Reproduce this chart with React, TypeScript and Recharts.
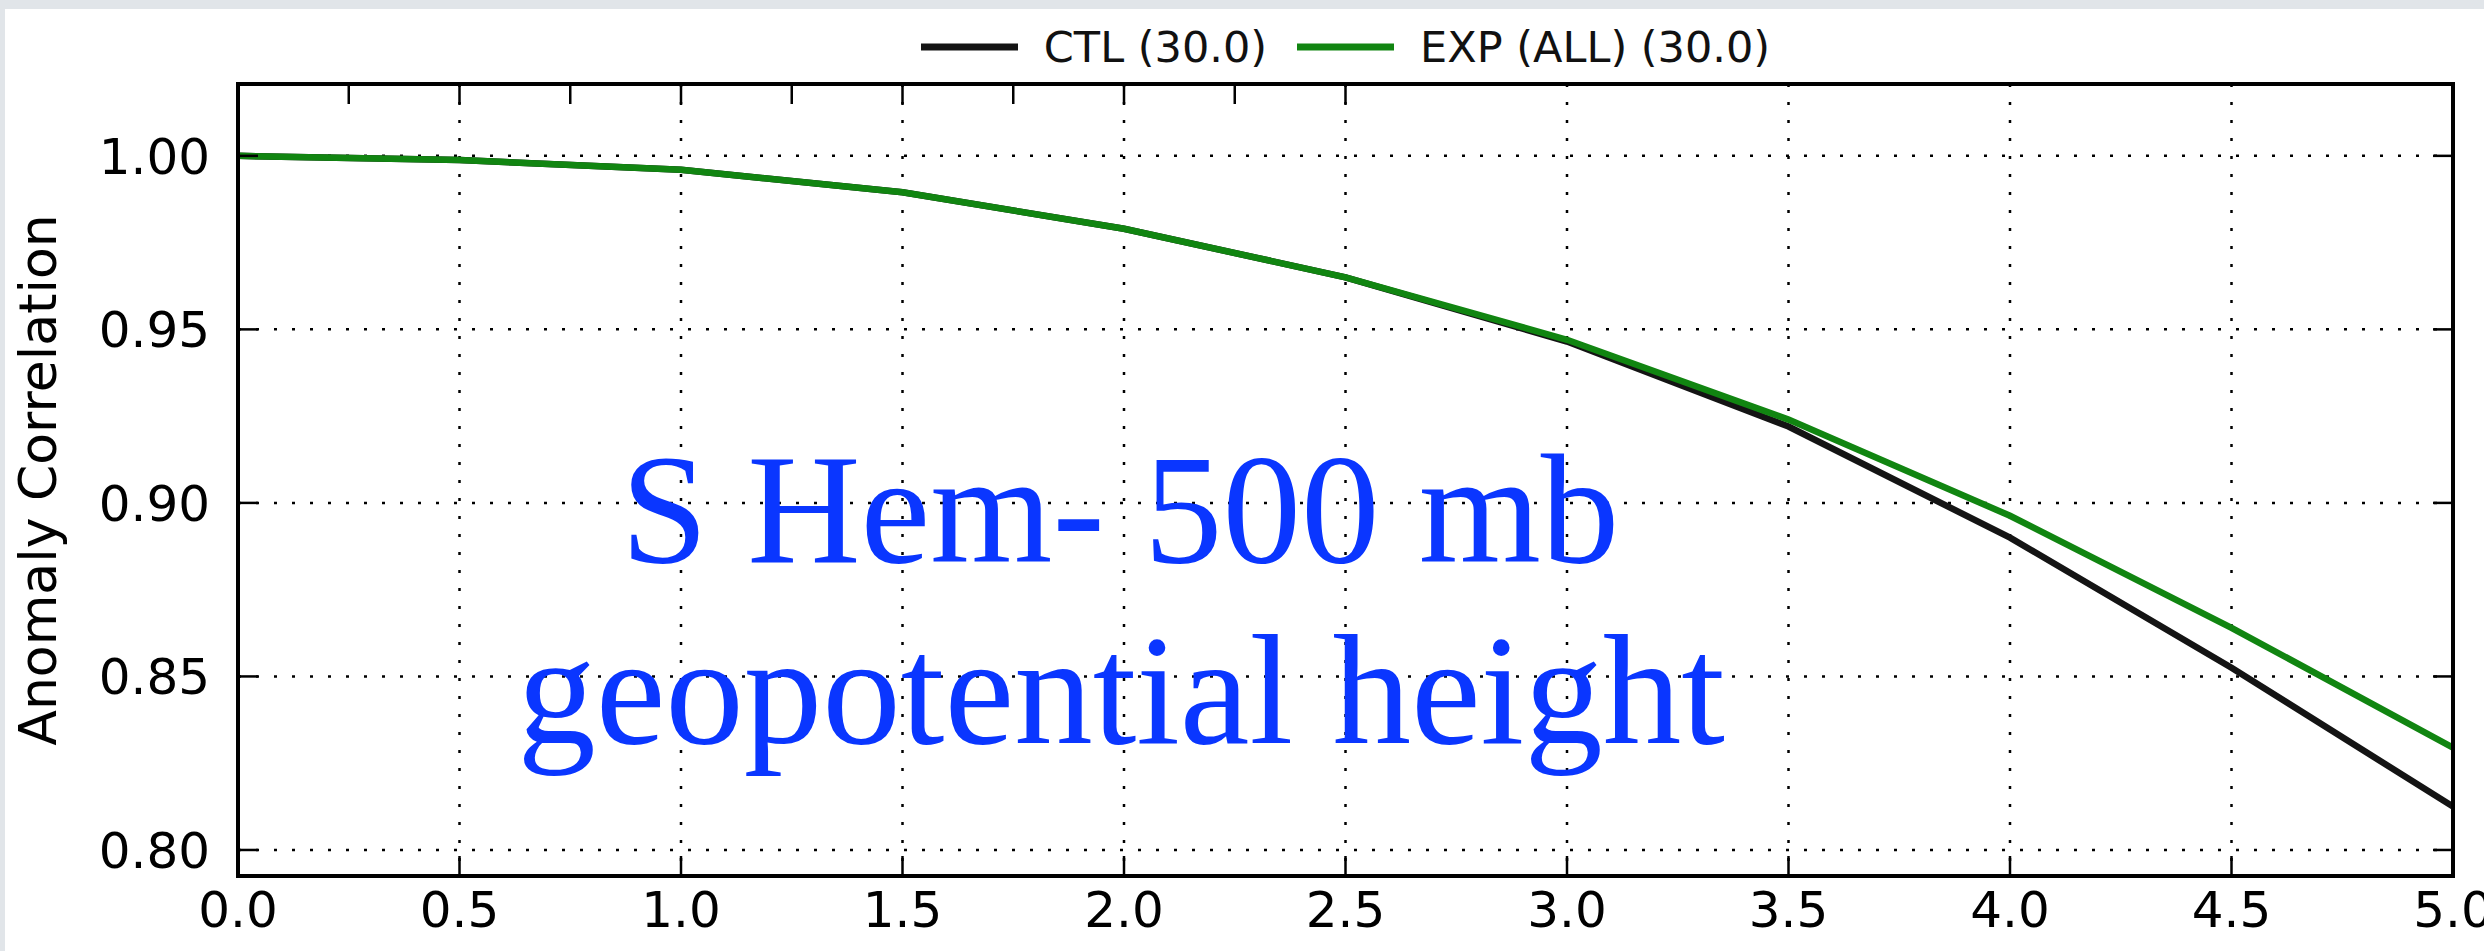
import React from 'react';
import { LineChart, Line, XAxis, YAxis, CartesianGrid, Legend } from 'recharts';

// ---- data ----
const leadDays = [0, 0.5, 1, 1.5, 2, 2.5, 3, 3.5, 4, 4.5, 5];
const ctlValues = [1.0, 0.9988, 0.996, 0.9895, 0.979, 0.965, 0.9465, 0.922, 0.89, 0.8525, 0.8125];
const expValues = [1.0, 0.9988, 0.996, 0.9895, 0.979, 0.965, 0.947, 0.924, 0.8963, 0.864, 0.8295];
const xTicks = [0, 0.5, 1, 1.5, 2, 2.5, 3, 3.5, 4, 4.5, 5];
const yTicks = [0.8, 0.85, 0.9, 0.95, 1.0];
const seriesNames = ['CTL (30.0)', 'EXP (ALL) (30.0)'];
const seriesColors = ['#141414', '#118511'];
const yAxisTitle = 'Anomaly Correlation';
const titleLines = ['S Hem- 500 mb', 'geopotential height'];

const data = leadDays.map((d, i) => ({ day: d, ctl: ctlValues[i], exp: expValues[i] }));

const SANS = "'DejaVu Sans', 'Bitstream Vera Sans', sans-serif";
const SERIF = "'Liberation Serif', 'Times New Roman', serif";
const TICK = 20;
const TICK_FONT = 50;

const BottomTick = (props: any) => {
  const { x, y, payload } = props;
  return (
    <g>
      <line x1={x} y1={y} x2={x} y2={y - TICK} stroke="#000" strokeWidth={2.5} />
      <text x={x} y={y + 51} textAnchor="middle" fontSize={TICK_FONT} fontFamily={SANS} fill="#000">
        {Number(payload.value).toFixed(1)}
      </text>
    </g>
  );
};

const TopTick = (props: any) => {
  const { x, y } = props;
  return <line x1={x} y1={y} x2={x} y2={y + TICK} stroke="#000" strokeWidth={2.5} />;
};

const LeftTick = (props: any) => {
  const { x, y, payload } = props;
  return (
    <g>
      <line x1={x} y1={y} x2={x + TICK} y2={y} stroke="#000" strokeWidth={2.5} />
      <text x={x - 28} y={y + 18} textAnchor="end" fontSize={TICK_FONT} fontFamily={SANS} fill="#000">
        {Number(payload.value).toFixed(2)}
      </text>
    </g>
  );
};

const RightTick = (props: any) => {
  const { x, y } = props;
  return <line x1={x} y1={y} x2={x - TICK} y2={y} stroke="#000" strokeWidth={2.5} />;
};

const renderLegend = (props: any) => {
  const items = props.payload || [];
  return (
    <div
      style={{
        display: 'flex',
        justifyContent: 'center',
        alignItems: 'center',
        fontFamily: SANS,
        fontSize: 43,
        color: '#111',
        height: 50,
        lineHeight: '50px',
        whiteSpace: 'nowrap',
      }}
    >
      {items.map((it: any, i: number) => (
        <div key={it.value} style={{ display: 'flex', alignItems: 'center', marginLeft: i ? 30 : 0 }}>
          <svg width={97} height={10} style={{ display: 'block' }}>
            <line x1={0} y1={5} x2={97} y2={5} stroke={it.color} strokeWidth={7} />
          </svg>
          <span style={{ marginLeft: 26 }}>{it.value}</span>
        </div>
      ))}
    </div>
  );
};

const axisLineStyle = { stroke: '#000', strokeWidth: 4, strokeLinecap: 'square' as const };

export default function App() {
  return (
    <div
      style={{
        position: 'fixed',
        left: 0,
        top: 0,
        width: 2484,
        height: 951,
        background: '#e1e5e9',
        overflow: 'hidden',
      }}
    >
      <div style={{ position: 'absolute', left: 5, top: 9, width: 2479, height: 942, background: '#fff' }} />
      <div style={{ position: 'absolute', left: 0, top: 0, width: 2484, height: 951 }}>
        <LineChart width={2484} height={951} data={data} margin={{ top: 83, right: 30, bottom: 15, left: 38 }}>
          <CartesianGrid
            xAxisId="bottom"
            yAxisId="left"
            stroke="#000"
            strokeWidth={2.5}
            strokeDasharray="3 15"
          />
          <XAxis
            xAxisId="bottom"
            dataKey="day"
            type="number"
            domain={[0, 5]}
            ticks={xTicks}
            interval={0}
            height={60}
            tickLine={false}
            tickSize={0}
            tickMargin={0}
            axisLine={axisLineStyle}
            tick={<BottomTick />}
            allowDataOverflow
          />
          <XAxis
            xAxisId="top"
            orientation="top"
            type="number"
            domain={[0, 5]}
            ticks={xTicks}
            interval={0}
            height={1}
            tickLine={false}
            tickSize={0}
            tickMargin={0}
            axisLine={axisLineStyle}
            tick={<TopTick />}
            allowDataOverflow
          />
          <YAxis
            yAxisId="left"
            type="number"
            domain={[0.7925, 1.0207]}
            ticks={yTicks}
            interval={0}
            width={200}
            tickLine={false}
            tickSize={0}
            tickMargin={0}
            axisLine={axisLineStyle}
            tick={<LeftTick />}
            allowDataOverflow
            label={{
              value: yAxisTitle,
              angle: -90,
              position: 'insideLeft',
              offset: 0,
              style: { fontFamily: SANS, fontSize: 52, fill: '#000', textAnchor: 'middle' },
            }}
          />
          <YAxis
            yAxisId="right"
            orientation="right"
            type="number"
            domain={[0.7925, 1.0207]}
            ticks={yTicks}
            interval={0}
            width={1}
            tickLine={false}
            tickSize={0}
            tickMargin={0}
            axisLine={axisLineStyle}
            tick={<RightTick />}
            allowDataOverflow
          />
          <Legend
            layout="horizontal"
            verticalAlign="middle"
            align="center"
            wrapperStyle={{ top: 22, left: 238, width: 2215 }}
            content={renderLegend}
          />
          <Line
            xAxisId="bottom"
            yAxisId="left"
            type="linear"
            dataKey="ctl"
            name={seriesNames[0]}
            stroke={seriesColors[0]}
            strokeWidth={6.5}
            dot={false}
            activeDot={false}
            isAnimationActive={false}
          />
          <Line
            xAxisId="bottom"
            yAxisId="left"
            type="linear"
            dataKey="exp"
            name={seriesNames[1]}
            stroke={seriesColors[1]}
            strokeWidth={6.5}
            dot={false}
            activeDot={false}
            isAnimationActive={false}
          />
        </LineChart>
      </div>
      <svg
        width={2484}
        height={951}
        style={{ position: 'absolute', left: 0, top: 0, pointerEvents: 'none' }}
      >
        <text x={1120} y={562} textAnchor="middle" fontFamily={SERIF} fontSize={157} fill="#0a36ff">
          {titleLines[0]}
        </text>
        <text x={1121} y={743} textAnchor="middle" fontFamily={SERIF} fontSize={157} fill="#0a36ff">
          {titleLines[1]}
        </text>
      </svg>
    </div>
  );
}
